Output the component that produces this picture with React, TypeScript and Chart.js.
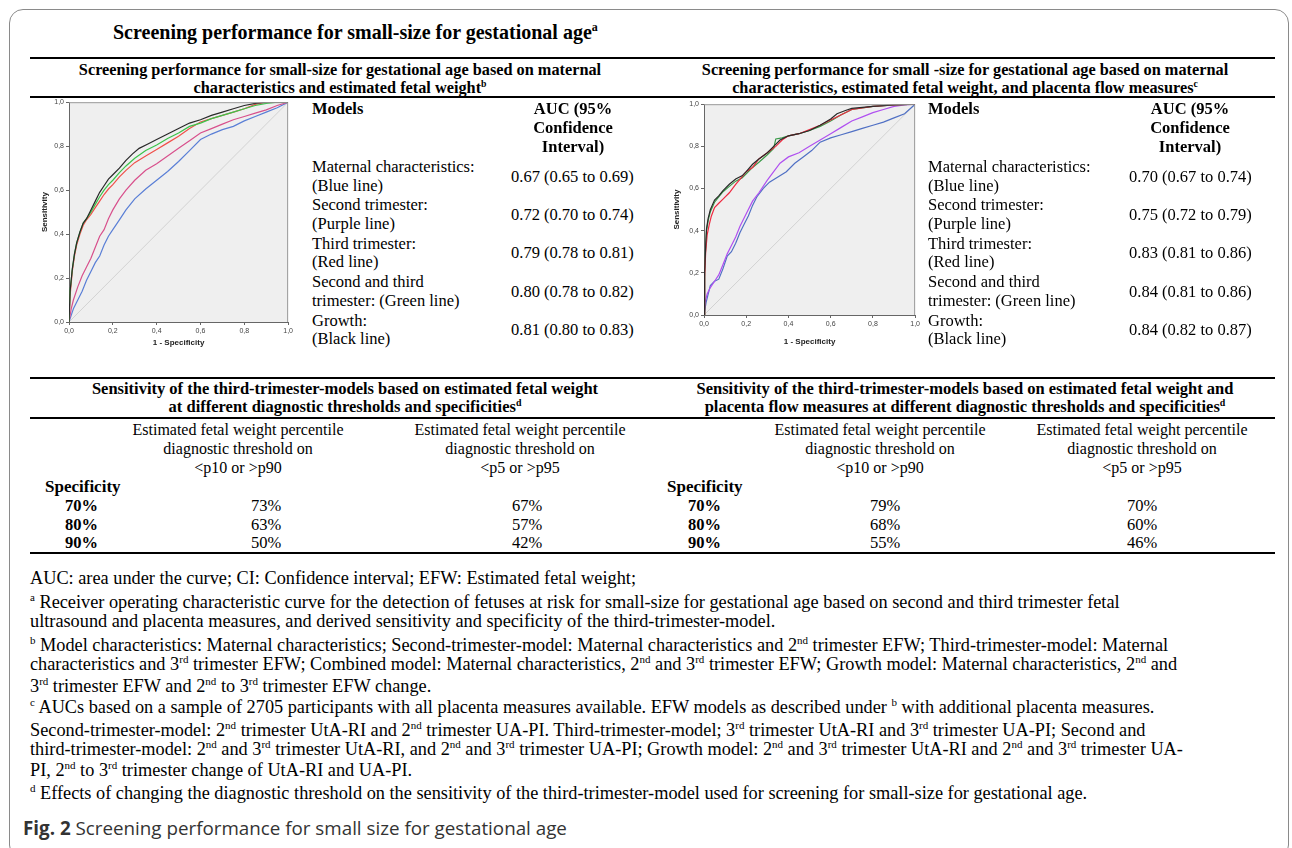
import React, { useEffect, useRef } from 'react';
import { Chart, registerables } from 'chart.js';
Chart.register(...registerables);

type P = [number, number];

// ---------- data ----------
const tickValues = [0, 0.2, 0.4, 0.6, 0.8, 1.0];

// Left ROC (EFW models): [1 - specificity, sensitivity]
const leftGrowth: P[] = [[0,0],[0.005,0.14],[0.015,0.24],[0.025,0.31],[0.035,0.36],[0.05,0.41],[0.065,0.45],[0.08,0.47],[0.1,0.51],[0.12,0.55],[0.14,0.59],[0.16,0.62],[0.18,0.65],[0.2,0.67],[0.23,0.7],[0.26,0.735],[0.29,0.765],[0.32,0.79],[0.36,0.81],[0.4,0.83],[0.45,0.855],[0.5,0.88],[0.55,0.905],[0.6,0.92],[0.65,0.94],[0.7,0.955],[0.75,0.97],[0.8,0.985],[0.85,0.995],[0.9,1],[1,1]];
const leftCombined: P[] = [[0,0],[0.005,0.14],[0.015,0.24],[0.025,0.31],[0.035,0.36],[0.05,0.41],[0.065,0.45],[0.08,0.47],[0.1,0.5],[0.12,0.535],[0.14,0.57],[0.16,0.6],[0.18,0.625],[0.2,0.645],[0.23,0.68],[0.26,0.71],[0.3,0.745],[0.35,0.78],[0.4,0.805],[0.45,0.835],[0.5,0.86],[0.55,0.89],[0.6,0.905],[0.65,0.925],[0.7,0.94],[0.75,0.955],[0.8,0.97],[0.85,0.985],[0.9,0.995],[0.95,1],[1,1]];
const leftThird: P[] = [[0,0],[0.005,0.12],[0.015,0.23],[0.025,0.3],[0.035,0.35],[0.05,0.4],[0.065,0.44],[0.08,0.465],[0.1,0.49],[0.12,0.52],[0.14,0.55],[0.16,0.58],[0.18,0.605],[0.2,0.625],[0.23,0.66],[0.26,0.69],[0.3,0.725],[0.35,0.755],[0.4,0.785],[0.45,0.815],[0.5,0.845],[0.55,0.88],[0.6,0.91],[0.65,0.925],[0.7,0.94],[0.75,0.955],[0.8,0.97],[0.85,0.99],[0.9,1],[1,1]];
const leftSecond: P[] = [[0,0],[0.01,0.06],[0.02,0.1],[0.04,0.16],[0.06,0.21],[0.08,0.25],[0.1,0.29],[0.12,0.34],[0.14,0.39],[0.16,0.42],[0.18,0.47],[0.2,0.51],[0.23,0.56],[0.26,0.6],[0.3,0.645],[0.35,0.69],[0.4,0.72],[0.45,0.755],[0.5,0.79],[0.55,0.825],[0.6,0.86],[0.65,0.88],[0.7,0.9],[0.75,0.92],[0.8,0.935],[0.85,0.95],[0.9,0.965],[0.95,0.985],[1,1]];
const leftMaternal: P[] = [[0,0],[0.01,0.03],[0.02,0.06],[0.04,0.1],[0.06,0.14],[0.08,0.19],[0.1,0.23],[0.12,0.27],[0.14,0.3],[0.16,0.35],[0.18,0.39],[0.2,0.42],[0.23,0.465],[0.26,0.51],[0.3,0.56],[0.35,0.605],[0.4,0.645],[0.45,0.685],[0.5,0.73],[0.55,0.78],[0.6,0.83],[0.65,0.855],[0.7,0.875],[0.75,0.89],[0.8,0.915],[0.85,0.935],[0.9,0.955],[0.95,0.975],[1,1]];

// Right ROC (EFW + placenta flow models)
const rightGrowth: P[] = [[0,0],[0.003,0.2],[0.008,0.33],[0.012,0.41],[0.02,0.46],[0.03,0.5],[0.05,0.545],[0.07,0.565],[0.09,0.59],[0.12,0.62],[0.15,0.645],[0.18,0.66],[0.2,0.68],[0.23,0.715],[0.26,0.74],[0.3,0.77],[0.33,0.8],[0.36,0.83],[0.4,0.85],[0.45,0.86],[0.5,0.875],[0.55,0.9],[0.6,0.93],[0.63,0.955],[0.67,0.97],[0.7,0.98],[0.8,0.99],[0.9,0.997],[1,1]];
const rightCombined: P[] = [[0,0],[0.003,0.2],[0.008,0.32],[0.012,0.4],[0.02,0.45],[0.03,0.49],[0.05,0.535],[0.07,0.56],[0.09,0.585],[0.12,0.61],[0.15,0.635],[0.18,0.65],[0.2,0.67],[0.23,0.7],[0.26,0.725],[0.3,0.76],[0.33,0.79],[0.34,0.835],[0.37,0.84],[0.4,0.85],[0.45,0.86],[0.5,0.875],[0.55,0.895],[0.6,0.92],[0.65,0.95],[0.7,0.975],[0.8,0.99],[0.9,0.997],[1,1]];
const rightThird: P[] = [[0,0],[0.003,0.18],[0.008,0.3],[0.015,0.38],[0.025,0.43],[0.035,0.47],[0.05,0.51],[0.07,0.53],[0.09,0.55],[0.12,0.58],[0.15,0.62],[0.18,0.655],[0.2,0.68],[0.23,0.7],[0.26,0.74],[0.3,0.77],[0.34,0.8],[0.37,0.83],[0.4,0.85],[0.45,0.86],[0.5,0.88],[0.55,0.9],[0.6,0.925],[0.65,0.95],[0.7,0.975],[0.8,0.99],[0.9,0.997],[1,1]];
const rightSecond: P[] = [[0,0],[0.005,0.06],[0.015,0.1],[0.03,0.13],[0.05,0.16],[0.07,0.19],[0.09,0.24],[0.11,0.29],[0.13,0.33],[0.15,0.37],[0.17,0.42],[0.2,0.48],[0.23,0.54],[0.26,0.58],[0.3,0.64],[0.33,0.68],[0.36,0.72],[0.4,0.75],[0.45,0.77],[0.5,0.8],[0.55,0.83],[0.6,0.86],[0.65,0.89],[0.7,0.92],[0.75,0.94],[0.8,0.96],[0.85,0.975],[0.9,0.99],[0.95,0.997],[1,1]];
const rightMaternal: P[] = [[0,0],[0.01,0.06],[0.02,0.1],[0.03,0.14],[0.05,0.16],[0.07,0.17],[0.09,0.22],[0.11,0.28],[0.13,0.3],[0.15,0.34],[0.17,0.39],[0.19,0.43],[0.21,0.47],[0.23,0.52],[0.25,0.56],[0.28,0.6],[0.31,0.63],[0.35,0.655],[0.39,0.68],[0.43,0.72],[0.47,0.75],[0.51,0.78],[0.55,0.82],[0.6,0.84],[0.65,0.855],[0.7,0.87],[0.75,0.885],[0.8,0.9],[0.85,0.915],[0.9,0.935],[0.95,0.955],[1,1]];

const referenceLine: P[] = [[0, 0], [1, 1]];

const modelLabels: string[][] = [
  ['Maternal characteristics:', '(Blue line)'],
  ['Second trimester:', '(Purple line)'],
  ['Third trimester:', '(Red line)'],
  ['Second and third', 'trimester: (Green line)'],
  ['Growth:', '(Black line)'],
];
const leftAuc = ['0.67 (0.65 to 0.69)', '0.72 (0.70 to 0.74)', '0.79 (0.78 to 0.81)', '0.80 (0.78 to 0.82)', '0.81 (0.80 to 0.83)'];
const rightAuc = ['0.70 (0.67 to 0.74)', '0.75 (0.72 to 0.79)', '0.83 (0.81 to 0.86)', '0.84 (0.81 to 0.86)', '0.84 (0.82 to 0.87)'];

const specificities = ['70%', '80%', '90%'];
const leftSensP10 = ['73%', '63%', '50%'];
const leftSensP5 = ['67%', '57%', '42%'];
const rightSensP10 = ['79%', '68%', '55%'];
const rightSensP5 = ['70%', '60%', '46%'];

// ---------- chart ----------
type Curve = { data: P[]; color: string };
type RocProps = {
  left: number; top: number; width: number; height: number;
  yAxisW: number; xAxisH: number; padTop: number; padRight: number;
  yTitlePad: number; xTitlePad: number; curves: Curve[];
};

const sans = '"Liberation Sans", Arial, sans-serif';
const fmt = (v: number) => Number(v).toFixed(1).replace('.', ',');

function RocChart(p: RocProps) {
  const ref = useRef<HTMLCanvasElement>(null);
  useEffect(() => {
    if (!ref.current) return;
    const frame = {
      id: 'frame',
      beforeDraw(chart: any) {
        const { ctx, chartArea: a } = chart;
        ctx.save();
        ctx.fillStyle = '#efefef';
        ctx.fillRect(a.left, a.top, a.right - a.left, a.bottom - a.top);
        ctx.restore();
      },
      afterDraw(chart: any) {
        const { ctx, chartArea: a } = chart;
        ctx.save();
        ctx.strokeStyle = '#9a9a9a';
        ctx.lineWidth = 1;
        ctx.beginPath();
        ctx.moveTo(a.left, a.top + 0.5);
        ctx.lineTo(a.right - 0.5, a.top + 0.5);
        ctx.lineTo(a.right - 0.5, a.bottom);
        ctx.stroke();
        ctx.restore();
      },
    };
    const ds = p.curves.map((c) => ({
      data: c.data.map(([x, y]) => ({ x, y })),
      borderColor: c.color,
      borderWidth: 1.2,
      pointRadius: 0,
      showLine: true,
      tension: 0,
      fill: false,
    }));
    ds.push({
      data: referenceLine.map(([x, y]) => ({ x, y })),
      borderColor: '#d2d2d2',
      borderWidth: 1,
      pointRadius: 0,
      showLine: true,
      tension: 0,
      fill: false,
    });
    const axisCommon = (title: string, pad: number, isX: boolean) => ({
      type: 'linear' as const,
      min: 0,
      max: 1,
      afterBuildTicks: (s: any) => { s.ticks = tickValues.map((v) => ({ value: v })); },
      ticks: {
        callback: (v: any) => fmt(v),
        font: { family: sans, size: 7 },
        color: '#444',
        padding: 2,
        maxRotation: 0,
        autoSkip: false,
      },
      grid: { drawOnChartArea: false, drawTicks: true, tickLength: 3, color: '#666' },
      border: { display: true, color: '#666', width: 1 },
      title: {
        display: true,
        text: title,
        font: { family: sans, size: 8, weight: 'bold' as const },
        color: '#222',
        padding: isX ? { top: 0, bottom: pad } : { top: pad, bottom: 0 },
      },
      afterFit: (s: any) => { if (isX) s.height = p.xAxisH; else s.width = p.yAxisW; },
    });
    const chart = new Chart(ref.current, {
      type: 'scatter',
      data: { datasets: ds as any },
      options: {
        animation: false,
        responsive: false,
        maintainAspectRatio: false,
        devicePixelRatio: 1,
        layout: { padding: { top: p.padTop, right: p.padRight, left: 0, bottom: 0 } },
        plugins: { legend: { display: false }, tooltip: { enabled: false } },
        scales: {
          x: axisCommon('1 - Specificity', p.xTitlePad, true),
          y: axisCommon('Sensitivity', p.yTitlePad, false),
        },
      } as any,
      plugins: [frame],
    });
    return () => chart.destroy();
  }, []);
  return (
    <canvas
      ref={ref}
      width={p.width}
      height={p.height}
      style={{ position: 'absolute', left: p.left, top: p.top, width: p.width, height: p.height }}
    />
  );
}

// ---------- text helpers ----------
const serif = '"Liberation Serif", "Times New Roman", serif';

function T(props: { x: number; y: number; size?: number; bold?: boolean; align?: 'left' | 'center'; children: React.ReactNode }) {
  const size = props.size ?? 16.5;
  const lh = Math.round(size * 1.2);
  const style: React.CSSProperties = {
    position: 'absolute',
    top: props.y - lh / 2,
    lineHeight: lh + 'px',
    height: lh,
    fontSize: size,
    fontFamily: serif,
    fontWeight: props.bold ? 700 : 400,
    whiteSpace: 'nowrap',
    color: '#000',
  };
  if (props.align === 'center') {
    style.left = props.x - 400;
    style.width = 800;
    style.textAlign = 'center';
  } else {
    style.left = props.x;
  }
  return <div style={style}>{props.children}</div>;
}

const S = ({ children }: { children: React.ReactNode }) => (
  <sup style={{ fontSize: '0.6em', lineHeight: 0, verticalAlign: 'super' }}>{children}</sup>
);

function HLine({ y, x1, x2, t = 1.5 }: { y: number; x1: number; x2: number; t?: number }) {
  return <div style={{ position: 'absolute', left: x1, top: y - t / 2, width: x2 - x1, height: t, background: '#000' }} />;
}

function RocTable({ labelX, valueX, aucCenter, values }: { labelX: number; valueX: number; aucCenter: number; values: string[] }) {
  return (
    <>
      <T x={labelX} y={109} bold>Models</T>
      <T x={aucCenter} y={109} bold align="center">AUC (95%</T>
      <T x={aucCenter} y={128} bold align="center">Confidence</T>
      <T x={aucCenter} y={147} bold align="center">Interval)</T>
      {modelLabels.map((lines, i) => {
        const y1 = 167 + i * 38.4;
        return (
          <React.Fragment key={i}>
            <T x={labelX} y={y1}>{lines[0]}</T>
            <T x={labelX} y={y1 + 18.5}>{lines[1]}</T>
            <T x={valueX} y={y1 + 9.5}>{values[i]}</T>
          </React.Fragment>
        );
      })}
    </>
  );
}

function SensTable({ specX, pctX, c1, c2, v1c, v2c, col1, col2 }: { specX: number; pctX: number; c1: number; c2: number; v1c: number; v2c: number; col1: string[]; col2: string[] }) {
  const hs = 16;
  return (
    <>
      <T x={c1} y={429} size={hs} align="center">Estimated fetal weight percentile</T>
      <T x={c1} y={448} size={hs} align="center">diagnostic threshold on</T>
      <T x={c1} y={467} size={hs} align="center">{'<p10 or >p90'}</T>
      <T x={c2} y={429} size={hs} align="center">Estimated fetal weight percentile</T>
      <T x={c2} y={448} size={hs} align="center">diagnostic threshold on</T>
      <T x={c2} y={467} size={hs} align="center">{'<p5 or >p95'}</T>
      <T x={specX} y={487} size={17} bold>Specificity</T>
      {specificities.map((s, i) => {
        const y = 506 + i * 18.5;
        return (
          <React.Fragment key={s}>
            <T x={pctX} y={y} bold>{s}</T>
            <T x={v1c} y={y} align="center">{col1[i]}</T>
            <T x={v2c} y={y} align="center">{col2[i]}</T>
          </React.Fragment>
        );
      })}
    </>
  );
}

const footY = [578, 602, 621, 645, 664, 686, 707, 730, 749, 770, 793];
const FS = 18.3;

export default function App() {
  useEffect(() => {
    document.body.style.margin = '0';
  }, []);
  const leftCurves: Curve[] = [
    { data: leftGrowth, color: '#2a2a2a' },
    { data: leftCombined, color: '#3cc44a' },
    { data: leftThird, color: '#f0504a' },
    { data: leftSecond, color: '#d8508c' },
    { data: leftMaternal, color: '#5a7fd6' },
  ];
  const rightCurves: Curve[] = [
    { data: rightGrowth, color: '#2a2a2a' },
    { data: rightThird, color: '#ee2a40' },
    { data: rightCombined, color: '#3a9a48' },
    { data: rightSecond, color: '#b050f0' },
    { data: rightMaternal, color: '#5070c4' },
  ];
  return (
    <div style={{ position: 'absolute', left: 0, top: 0, width: 1292, height: 848, overflow: 'hidden', background: '#fff' }}>
      <div style={{ position: 'absolute', left: 9, top: 9, width: 1280, height: 850, border: '1.5px solid #8a8a8a', borderRadius: 14, boxSizing: 'border-box' }} />

      <T x={113} y={32} size={20} bold>Screening performance for small-size for gestational age<S>a</S></T>
      <HLine y={58} x1={30} x2={1275} />

      <T x={340} y={70} size={16.3} bold align="center">Screening performance for small-size for gestational age based on maternal</T>
      <T x={340} y={88} size={16.3} bold align="center">characteristics and estimated fetal weight<S>b</S></T>
      <T x={965} y={70} size={16.3} bold align="center">Screening performance for small -size for gestational age based on maternal</T>
      <T x={965} y={88} size={16.3} bold align="center">characteristics, estimated fetal weight, and placenta flow measures<S>c</S></T>
      <HLine y={97} x1={30} x2={1275} />

      <RocChart left={30} top={96} width={265} height={262} yAxisW={39} xAxisH={36} padTop={5} padRight={6} yTitlePad={10} xTitlePad={10} curves={leftCurves} />
      <RocTable labelX={312} valueX={511} aucCenter={573} values={leftAuc} />

      <RocChart left={666} top={98} width={256} height={260} yAxisW={38} xAxisH={43} padTop={6} padRight={6} yTitlePad={6} xTitlePad={11} curves={rightCurves} />
      <RocTable labelX={928} valueX={1129} aucCenter={1190} values={rightAuc} />

      <HLine y={378} x1={30} x2={1275} />
      <T x={345} y={389} size={16.5} bold align="center">Sensitivity of the third-trimester-models based on estimated fetal weight</T>
      <T x={345} y={407} size={16.5} bold align="center">at different diagnostic thresholds and specificities<S>d</S></T>
      <T x={965} y={389} size={16.5} bold align="center">Sensitivity of the third-trimester-models based on estimated fetal weight and</T>
      <T x={965} y={407} size={16.5} bold align="center">placenta flow measures at different diagnostic thresholds and specificities<S>d</S></T>
      <HLine y={418} x1={30} x2={1275} t={2} />

      <SensTable specX={45} pctX={65} c1={238} c2={520} v1c={266} v2c={527} col1={leftSensP10} col2={leftSensP5} />
      <SensTable specX={667} pctX={688} c1={880} c2={1142} v1c={885} v2c={1142} col1={rightSensP10} col2={rightSensP5} />
      <HLine y={553} x1={30} x2={1275} />

      <T x={30} y={footY[0]} size={FS}>AUC: area under the curve; CI: Confidence interval; EFW: Estimated fetal weight;</T>
      <T x={30} y={footY[1]} size={FS}><S>a</S> Receiver operating characteristic curve for the detection of fetuses at risk for small-size for gestational age based on second and third trimester fetal</T>
      <T x={30} y={footY[2]} size={FS}>ultrasound and placenta measures, and derived sensitivity and specificity of the third-trimester-model.</T>
      <T x={30} y={footY[3]} size={FS}><S>b</S> Model characteristics: Maternal characteristics; Second-trimester-model: Maternal characteristics and 2<S>nd</S> trimester EFW; Third-trimester-model: Maternal</T>
      <T x={30} y={footY[4]} size={FS}>characteristics and 3<S>rd</S> trimester EFW; Combined model: Maternal characteristics, 2<S>nd</S> and 3<S>rd</S> trimester EFW; Growth model: Maternal characteristics, 2<S>nd</S> and</T>
      <T x={30} y={footY[5]} size={FS}>3<S>rd</S> trimester EFW and 2<S>nd</S> to 3<S>rd</S> trimester EFW change.</T>
      <T x={30} y={footY[6]} size={FS}><S>c</S> AUCs based on a sample of 2705 participants with all placenta measures available. EFW models as described under <S>b</S> with additional placenta measures.</T>
      <T x={30} y={footY[7]} size={FS}>Second-trimester-model: 2<S>nd</S> trimester UtA-RI and 2<S>nd</S> trimester UA-PI. Third-trimester-model; 3<S>rd</S> trimester UtA-RI and 3<S>rd</S> trimester UA-PI; Second and</T>
      <T x={30} y={footY[8]} size={FS}>third-trimester-model: 2<S>nd</S> and 3<S>rd</S> trimester UtA-RI, and 2<S>nd</S> and 3<S>rd</S> trimester UA-PI; Growth model: 2<S>nd</S> and 3<S>rd</S> trimester UtA-RI and 2<S>nd</S> and 3<S>rd</S> trimester UA-</T>
      <T x={30} y={footY[9]} size={FS}>PI, 2<S>nd</S> to 3<S>rd</S> trimester change of UtA-RI and UA-PI.</T>
      <T x={30} y={footY[10]} size={FS}><S>d</S> Effects of changing the diagnostic threshold on the sensitivity of the third-trimester-model used for screening for small-size for gestational age.</T>

      <div style={{ position: 'absolute', left: 23, top: 816, lineHeight: '24px', fontSize: 18.8, fontFamily: '"Open Sans", "Noto Sans", sans-serif', color: '#333', whiteSpace: 'nowrap' }}>
        <b style={{ fontWeight: 700 }}>Fig. 2</b> Screening performance for small size for gestational age
      </div>
    </div>
  );
}
